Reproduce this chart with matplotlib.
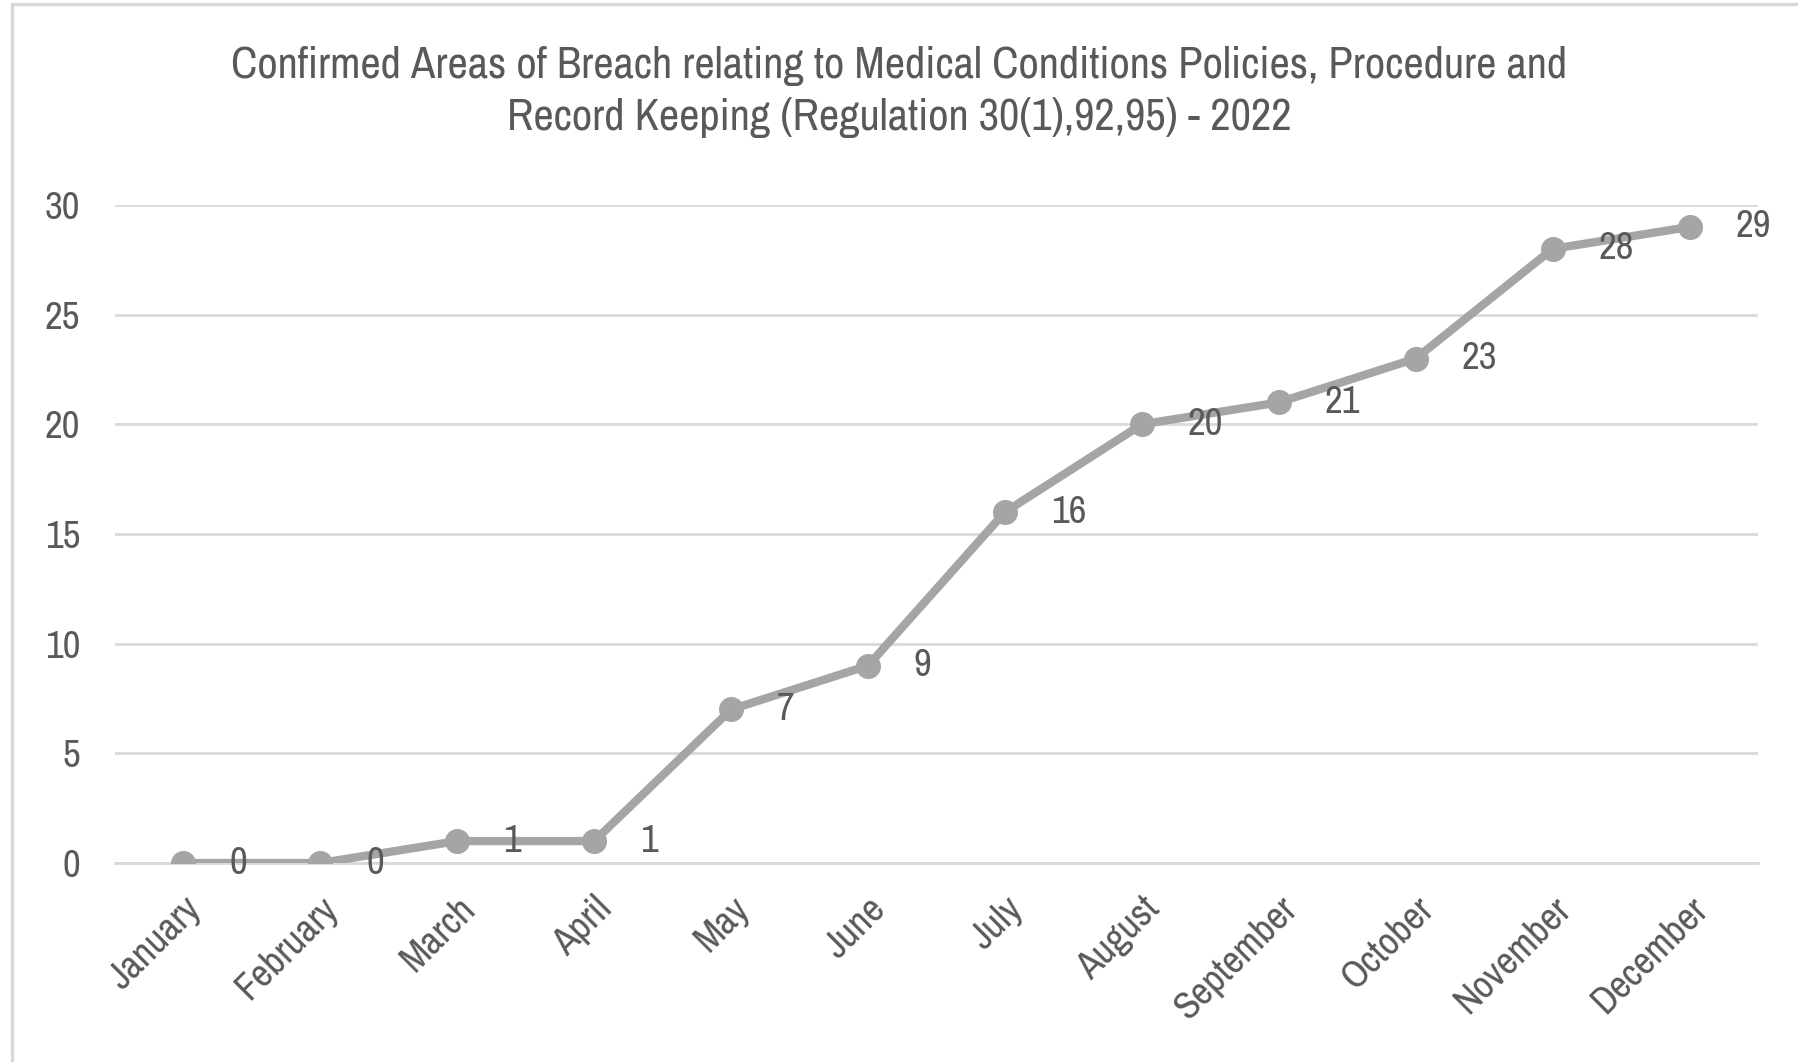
import matplotlib
matplotlib.use("Agg")
import matplotlib.pyplot as plt
from matplotlib import font_manager
from matplotlib.patches import Rectangle

months = ["January", "February", "March", "April", "May", "June", "July",
          "August", "September", "October", "November", "December"]
breaches = [0, 0, 1, 1, 7, 9, 16, 20, 21, 23, 28, 29]
yticks = [0, 5, 10, 15, 20, 25, 30]

title = ("Confirmed Areas of Breach relating to Medical Conditions Policies, Procedure and\n"
         "Record Keeping (Regulation 30(1),92,95) - 2022")

# look for a condensed face (the original uses Arial Narrow)
narrow = None
for f in font_manager.fontManager.ttflist:
    if "Narrow" in f.name or "Condensed" in f.name:
        narrow = (f.name, "normal")
        break
if narrow is None:
    for f in font_manager.fontManager.ttflist:
        if str(f.stretch) in ("condensed", "semi-condensed", "extra-condensed") \
                and "Mono" not in f.name and "Serif" not in f.name:
            narrow = (f.name, f.stretch)
            break
if narrow is None:
    narrow = ("Liberation Sans", "normal")
plt.rcParams["font.family"] = [narrow[0], "DejaVu Sans"]
plt.rcParams["font.stretch"] = narrow[1]
condensed = narrow[0] != "Liberation Sans"

text_col = "#595959"
line_col = "#A5A5A5"
tick_fs = 28 if condensed else 24
title_fs = 32 if condensed else 27

fig = plt.figure(figsize=(17.99, 10.62), dpi=100)
W, H = 1799, 1062
ax = fig.add_axes([115 / W, 1 - 863 / H, (1758 - 115) / W, (863 - 205) / H])

# chart frame
fig.patches.append(Rectangle((12 / W, -0.01), 1.2, 1 - 4 / H + 0.01,
                             transform=fig.transFigure, fill=False,
                             edgecolor="#D9D9D9", linewidth=2.5))

x = list(range(len(months)))
ax.plot(x, breaches, color=line_col, linewidth=6, marker="o",
        markersize=17, zorder=3)
for xi, v in zip(x, breaches):
    ax.annotate(str(v), (xi, v), xytext=(33, 0), textcoords="offset points",
                ha="left", va="center", fontsize=tick_fs, color=text_col)

ax.set_xlim(-0.5, 11.5)
ax.set_ylim(0, 30)
ax.set_yticks(yticks)
ax.set_xticks(x)
ax.set_xticklabels(months, rotation=45, ha="right", rotation_mode="anchor")
ax.tick_params(axis="both", length=0, labelsize=tick_fs, labelcolor=text_col)
ax.tick_params(axis="y", pad=25)
ax.tick_params(axis="x", pad=20)
ax.grid(axis="y", color="#D9D9D9", linewidth=2)
ax.set_axisbelow(True)
for s in ax.spines.values():
    s.set_visible(False)
ax.spines["bottom"].set_visible(True)
ax.spines["bottom"].set_color("#D9D9D9")
ax.spines["bottom"].set_linewidth(2)

fig.text(0.5, 1 - 92 / H, title, ha="center", va="center", fontsize=title_fs,
         color=text_col, linespacing=1.35)

fig.savefig("out.png", dpi=100)
